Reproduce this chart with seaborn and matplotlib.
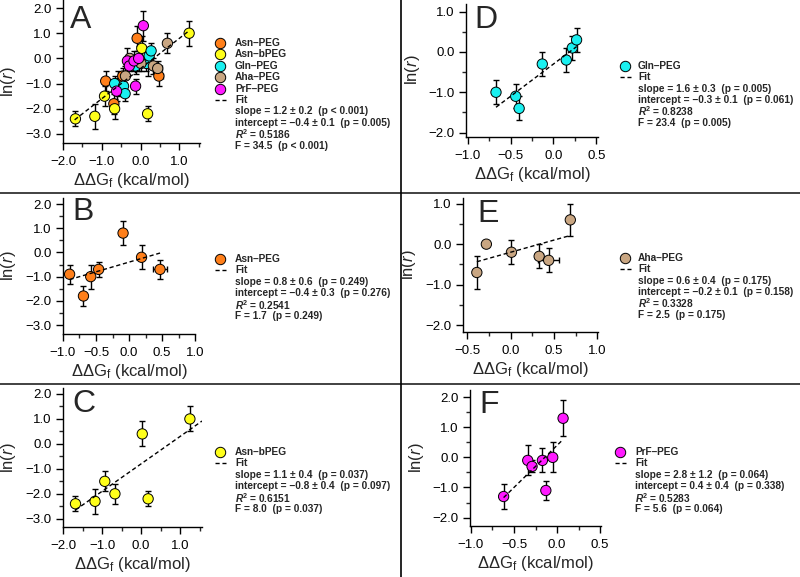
import numpy as np
import pandas as pd
import matplotlib
matplotlib.use('Agg')
import matplotlib.pyplot as plt
import seaborn as sns
from matplotlib.lines import Line2D
from matplotlib.ticker import MultipleLocator, FuncFormatter

# values
asn_peg_x = [-0.90, -0.69, -0.58, -0.46, -0.09, 0.19, 0.47]
asn_peg_y = [-0.90, -1.80, -1.00, -0.70, 0.80, -0.20, -0.70]
asn_peg_xerr = [0, 0, 0, 0, 0, 0, 0.10]
asn_peg_yerr = [0.4, 0.4, 0.5, 0.3, 0.5, 0.5, 0.4]

asn_bpeg_x = [-1.68, -1.18, -0.93, -0.67, 0.03, 0.18, 1.25]
asn_bpeg_y = [-2.40, -2.30, -1.50, -2.00, 0.40, -2.20, 1.00]
asn_bpeg_xerr = [0.04, 0, 0, 0, 0, 0, 0]
asn_bpeg_yerr = [0.3, 0.5, 0.4, 0.4, 0.5, 0.3, 0.5]

gln_peg_x = [-0.67, -0.44, -0.40, -0.13, 0.15, 0.22, 0.27]
gln_peg_y = [-1.00, -1.10, -1.40, -0.30, -0.20, 0.10, 0.30]
gln_peg_xerr = [0, 0, 0, 0, 0, 0, 0]
gln_peg_yerr = [0.3, 0.3, 0.3, 0.3, 0.3, 0.3, 0.3]

aha_peg_x = [-0.39, -0.28, 0.01, 0.33, 0.44, 0.69]
aha_peg_y = [-0.70, 0.00, -0.20, -0.30, -0.40, 0.60]
aha_peg_xerr = [0, 0, 0.03, 0.05, 0.12, 0]
aha_peg_yerr = [0.4, 0.0, 0.3, 0.3, 0.3, 0.4]

prf_peg_x = [-0.62, -0.34, -0.29, -0.17, -0.13, -0.05, 0.07]
prf_peg_y = [-1.30, -0.10, -0.30, -0.10, -1.10, 0.00, 1.30]
prf_peg_xerr = [0, 0, 0, 0, 0, 0, 0.03]
prf_peg_yerr = [0.4, 0.5, 0.2, 0.4, 0.3, 0.5, 0.6]

series_names = ['Asn–PEG', 'Asn–bPEG', 'Gln–PEG', 'Aha–PEG', 'PrF–PEG']
series_colors = ['#FF7F1A', '#FFFF1A', '#1AF0F0', '#C9A682', '#FF1AFF']

# fit results per panel: slope, intercept, x range of the dashed line
fit_slope = [1.2, 0.8, 1.1, 1.6, 0.6, 2.8]
fit_intercept = [-0.4, -0.4, -0.8, -0.3, -0.2, 0.4]
fit_xrange = [(-1.70, 1.25), (-0.90, 0.47), (-1.68, 1.56), (-0.67, 0.27), (-0.39, 0.69), (-0.62, 0.07)]
slope_txt = ['1.2 ± 0.2  (p < 0.001)', '0.8 ± 0.6  (p = 0.249)', '1.1 ± 0.4  (p = 0.037)',
             '1.6 ± 0.3  (p = 0.005)', '0.6 ± 0.4  (p = 0.175)', '2.8 ± 1.2  (p = 0.064)']
intercept_txt = ['−0.4 ± 0.1  (p = 0.005)', '−0.4 ± 0.3  (p = 0.276)', '−0.8 ± 0.4  (p = 0.097)',
                 '−0.3 ± 0.1  (p = 0.061)', '−0.2 ± 0.1  (p = 0.158)', '0.4 ± 0.4  (p = 0.338)']
r2_txt = ['0.5186', '0.2541', '0.6151', '0.8238', '0.3328', '0.5283']
f_txt = ['34.5  (p < 0.001)', '1.7  (p = 0.249)', '8.0  (p = 0.037)',
         '23.4  (p = 0.005)', '2.5  (p = 0.175)', '5.6  (p = 0.064)']
panel_letters = ['A', 'B', 'C', 'D', 'E', 'F']
panel_series = [series_names, ['Asn–PEG'], ['Asn–bPEG'], ['Gln–PEG'], ['Aha–PEG'], ['PrF–PEG']]

# build one long table
parts = []
for name, xs, ys, xe, ye in zip(series_names,
                                [asn_peg_x, asn_bpeg_x, gln_peg_x, aha_peg_x, prf_peg_x],
                                [asn_peg_y, asn_bpeg_y, gln_peg_y, aha_peg_y, prf_peg_y],
                                [asn_peg_xerr, asn_bpeg_xerr, gln_peg_xerr, aha_peg_xerr, prf_peg_xerr],
                                [asn_peg_yerr, asn_bpeg_yerr, gln_peg_yerr, aha_peg_yerr, prf_peg_yerr]):
    parts.append(pd.DataFrame({'series': name, 'ddg': xs, 'lnr': ys, 'xerr': xe, 'yerr': ye}))
df = pd.concat(parts, ignore_index=True)
palette = dict(zip(series_names, series_colors))

sns.set_style('ticks')
plt.rcParams['font.family'] = ['Liberation Sans', 'DejaVu Sans']
plt.rcParams['mathtext.fontset'] = 'custom'
plt.rcParams['mathtext.rm'] = 'Liberation Sans'
plt.rcParams['mathtext.it'] = 'Liberation Sans:italic'
plt.rcParams['mathtext.bf'] = 'Liberation Sans:bold'
plt.rcParams['mathtext.bfit'] = 'Liberation Sans:italic:bold'

W, H = 800, 577
fig = plt.figure(figsize=(8, 5.77), dpi=100)


def fx(px):
    return px / W


def fy(py):
    return 1 - py / H


# layout in pixels: left, right, top, bottom; limits; tick steps; legend spot
layout = [
    dict(box=(63, 200, 0, 143), xlim=(-2.0, 1.53), ylim=(-3.36, 2.32), xstep=(1.0, 0.5), ylab_y=82, leg=(220, 235, 43), letter=(70, 28)),
    dict(box=(63, 195, 198, 334), xlim=(-1.0, 1.0), ylim=(-3.37, 2.25), xstep=(0.5, 0.25), ylab_y=266, leg=(220, 235, 259), letter=(72, 220)),
    dict(box=(63, 202, 388, 527), xlim=(-2.0, 1.56), ylim=(-3.33, 2.24), xstep=(1.0, 0.5), ylab_y=458, leg=(220, 235, 452), letter=(72, 412)),
    dict(box=(466, 598, 4, 137), xlim=(-1.02, 0.52), ylim=(-2.11, 1.19), xstep=(0.5, 0.25), ylab_y=70, leg=(625, 638, 66), letter=(474, 28)),
    dict(box=(463, 598, 198, 332), xlim=(-0.55, 1.01), ylim=(-2.17, 1.14), xstep=(0.5, 0.25), ylab_y=265, leg=(625, 638, 258), letter=(477, 222)),
    dict(box=(470, 601, 390, 526), xlim=(-1.01, 0.51), ylim=(-2.28, 2.24), xstep=(0.5, 0.25), ylab_y=458, leg=(620, 635, 452), letter=(479, 413)),
]

fmt = FuncFormatter(lambda v, p: f'{round(v, 2):.1f}'.replace('-', '−'))
leg_fs = 7.3
row_h = 11.4

for i, lay in enumerate(layout):
    l, r, t, b = lay['box']
    ax = fig.add_axes([fx(l), fy(b), (r - l) / W, (b - t) / H])
    sub = df[df['series'].isin(panel_series[i])]

    for name in panel_series[i]:
        s = sub[sub['series'] == name]
        ax.errorbar(s['ddg'], s['lnr'], yerr=s['yerr'], xerr=s['xerr'], fmt='none',
                    ecolor='black', elinewidth=1.0, capsize=2.2, capthick=1.0, zorder=2)
    sns.scatterplot(data=sub, x='ddg', y='lnr', hue='series', palette=palette,
                    hue_order=panel_series[i], s=55, edgecolor='black', linewidth=0.7,
                    legend=False, ax=ax, zorder=3)

    x0, x1 = fit_xrange[i]
    fx_line = np.array([x0, x1])
    sns.lineplot(x=fx_line, y=fit_slope[i] * fx_line + fit_intercept[i], ax=ax,
                 color='black', lw=1.0, linestyle=(0, (3, 2)), zorder=4)

    ax.set_xlim(*lay['xlim'])
    ax.set_ylim(*lay['ylim'])
    ax.xaxis.set_major_locator(MultipleLocator(lay['xstep'][0]))
    ax.xaxis.set_minor_locator(MultipleLocator(lay['xstep'][1]))
    ax.yaxis.set_major_locator(MultipleLocator(1.0))
    ax.yaxis.set_minor_locator(MultipleLocator(0.5))
    ax.xaxis.set_major_formatter(fmt)
    ax.yaxis.set_major_formatter(fmt)
    ax.tick_params(axis='both', which='major', length=5, width=1, direction='out', labelsize=9.5, colors='black')
    ax.tick_params(axis='both', which='minor', length=3, width=1, direction='out')
    ax.tick_params(axis='x', which='major', pad=4.5)
    ax.tick_params(axis='y', which='major', pad=3)
    for sp in ['top', 'right']:
        ax.spines[sp].set_visible(False)
    for sp in ['left', 'bottom']:
        ax.spines[sp].set_linewidth(1.0)
        ax.spines[sp].set_color('black')
    ax.patch.set_alpha(0)

    ax.set_xlabel(r'ΔΔG$_\mathrm{f}$ (kcal/mol)', fontsize=12, labelpad=2)
    ax.set_ylabel('')
    fig.text(fx(l - 54), fy(lay['ylab_y']), r'ln($\mathit{r}$)', fontsize=12,
             rotation=90, ha='center', va='center')

    lx, ly = lay['letter']
    fig.text(fx(lx), fy(ly), panel_letters[i], fontsize=23, ha='left', va='baseline')

    # legend, drawn by hand
    mx, tx, y0 = lay['leg']
    rows = []
    for name in panel_series[i]:
        rows.append(('marker', name))
    rows.append(('fit', 'Fit'))
    rows.append(('text', 'slope = ' + slope_txt[i]))
    rows.append(('text', 'intercept = ' + intercept_txt[i]))
    rows.append(('text', r'$\mathbfit{R}^{\mathbf{2}}$ = ' + r2_txt[i]))
    rows.append(('text', 'F = ' + f_txt[i]))
    for k, (kind, label) in enumerate(rows):
        yy = y0 + k * row_h
        if kind == 'marker':
            fig.add_artist(Line2D([fx(mx)], [fy(yy)], marker='o', markersize=7.5,
                                  markerfacecolor=palette[label], markeredgecolor='black',
                                  markeredgewidth=0.7, linestyle='none', transform=fig.transFigure))
        elif kind == 'fit':
            fig.add_artist(Line2D([fx(mx - 5), fx(mx + 6)], [fy(yy), fy(yy)], color='black',
                                  lw=1.0, linestyle=(0, (3, 2)), transform=fig.transFigure))
        fig.text(fx(tx), fy(yy), label, fontsize=leg_fs, fontweight='bold', ha='left', va='center')

# panel separators
fig.add_artist(Line2D([0, 1], [fy(192.5), fy(192.5)], color='#333333', lw=1.3, transform=fig.transFigure))
fig.add_artist(Line2D([0, 1], [fy(383.5), fy(383.5)], color='#333333', lw=1.3, transform=fig.transFigure))
fig.add_artist(Line2D([fx(401), fx(401)], [0, 1], color='black', lw=1.2, transform=fig.transFigure))

fig.savefig('out.png', dpi=100)
